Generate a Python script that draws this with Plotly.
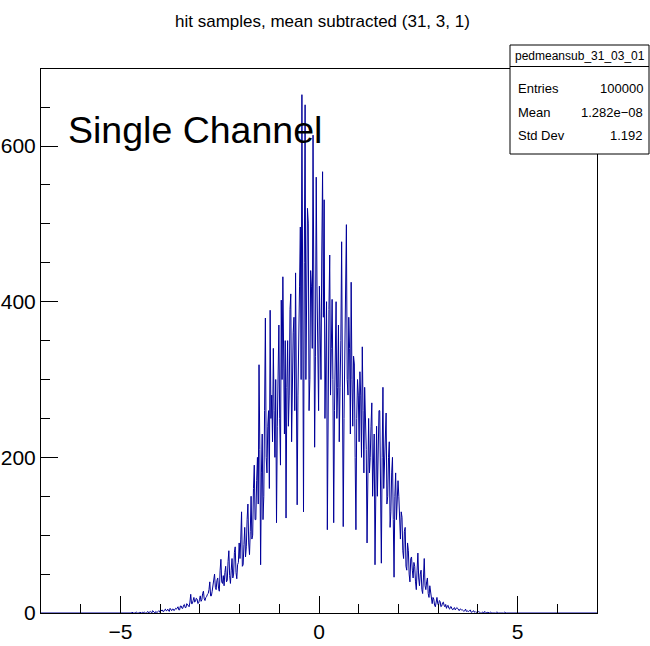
import plotly.graph_objects as go

# ---- data ----
BIN_LO = -4.8
BIN_W = 0.02
counts = [
    # -4.8 .. -4.4
    0, 0, 0, 0, 1, 0, 0, 0, 0, 1, 1, 0, 0, 0, 1, 0, 0, 1, 0, 1,
    # -4.4 .. -4.0
    1, 0, 0, 1, 2, 0, 1, 2, 1, 0, 3, 1, 1, 0, 2, 1, 1, 2, 3, 1,
    # -4.0 .. -3.6
    2, 3, 4, 2, 2, 4, 5, 3, 3, 5, 4, 2, 6, 4, 3, 5, 5, 3, 4, 6,
    # -3.6 .. -3.2
    5, 7, 8, 4, 4, 9, 9, 6, 6, 10, 11, 7, 7, 12, 10, 8, 8, 14, 24, 12,
    # -3.2 .. -2.8
    12, 16, 20, 14, 15, 19, 18, 12, 13, 17, 22, 15, 17, 25, 28, 18, 16, 20, 21, 24,
    # -2.8 .. -2.4
    25, 30, 40, 22, 22, 28, 35, 45, 50, 33, 30, 42, 45, 32, 28, 55, 69, 40, 38, 48,
    # -2.4 .. -2.0
    35, 52, 60, 40, 42, 66, 80, 48, 38, 55, 70, 45, 50, 78, 85, 52, 44, 62, 65, 90,
    # -2.0 .. -1.6
    70, 95, 130, 60, 62, 88, 110, 72, 85, 120, 140, 90, 75, 105, 150, 95, 100, 160, 190, 120,
    # -1.6 .. -1.2
    120, 170, 200, 140, 319, 210, 62, 180, 230, 120, 150, 260, 379, 200, 180, 240, 260, 160, 389, 250,
    # -1.2 .. -0.8
    280, 220, 340, 260, 200, 300, 116, 240, 310, 370, 250, 190, 402, 300, 432, 270, 230, 350, 122, 290,
    # -0.8 .. -0.4
    350, 240, 280, 390, 410, 220, 300, 360, 380, 260, 437, 320, 139, 280, 330, 420, 496, 300, 666, 380,
    # -0.4 .. 0.0
    130, 450, 653, 300, 380, 520, 501, 260, 300, 440, 420, 340, 614, 400, 213, 330, 560, 420, 350, 260,
    # 0.0 .. 0.4
    420, 310, 300, 460, 567, 380, 531, 250, 330, 400, 107, 300, 390, 460, 280, 340, 403, 300, 116, 260,
    # 0.4 .. 0.8
    330, 400, 250, 290, 370, 220, 290, 350, 477, 300, 111, 250, 360, 420, 499, 300, 280, 380, 340, 230,
    # 0.8 .. 1.2
    425, 300, 240, 330, 320, 200, 107, 250, 300, 280, 220, 310, 280, 200, 342, 260, 180, 290, 260, 210,
    # 1.2 .. 1.6
    90, 200, 250, 180, 200, 240, 270, 150, 180, 230, 62, 190, 240, 150, 210, 260, 260, 180, 64, 200,
    # 1.6 .. 2.0
    290, 160, 190, 230, 257, 140, 150, 200, 220, 110, 130, 180, 200, 120, 46, 150, 180, 120, 140, 170,
    # 2.0 .. 2.4
    150, 100, 95, 130, 123, 80, 70, 105, 110, 60, 55, 90, 80, 50, 40, 70, 72, 55, 45, 65,
    # 2.4 .. 2.8
    60, 40, 30, 55, 77, 45, 35, 50, 55, 30, 25, 45, 70, 35, 30, 40, 45, 25, 20, 35,
    # 2.8 .. 3.2
    25, 15, 12, 20, 18, 10, 8, 14, 20, 12, 10, 16, 15, 8, 9, 13, 14, 10, 8, 11,
    # 3.2 .. 3.6
    6, 9, 10, 6, 5, 8, 8, 5, 4, 6, 7, 4, 5, 7, 6, 3, 3, 5, 5, 4,
    # 3.6 .. 4.0
    4, 3, 2, 3, 5, 2, 3, 2, 2, 3, 4, 1, 1, 2, 3, 1, 2, 1, 1, 2,
    # 4.0 .. 4.4
    2, 1, 1, 0, 0, 1, 1, 0, 2, 1, 0, 0, 1, 0, 0, 1, 1, 0, 0, 0,
    # 4.4 .. 4.8
    0, 0, 0, 1, 1, 0, 0, 0, 0, 0, 0, 0, 0, 1, 0, 0, 0, 0, 0, 0,
]
X_RANGE = [-7, 7]
Y_RANGE = [0, 699]
title_text = "hit samples, mean subtracted (31, 3, 1)"
stats_name = "pedmeansub_31_03_01"
stats_labels = ["Entries", "Mean", "Std Dev"]
stats_values = ["100000", "1.282e\u221208", "1.192"]
label_text = "Single Channel"

# ---- outline through bin centres (bins are sub-pixel wide in the original) ----
centers = [BIN_LO + (i + 0.5) * BIN_W for i in range(len(counts))]
xs = [X_RANGE[0], BIN_LO] + centers + [BIN_LO + len(counts) * BIN_W, X_RANGE[1]]
ys = [0, 0] + counts + [0, 0]

FONT = "Liberation Sans, Arial, Helvetica, sans-serif"

fig = go.Figure()
fig.add_trace(go.Scatter(
    x=xs, y=ys, mode="lines", line=dict(color="#000099", width=1),
    hoverinfo="skip", showlegend=False,
))

W, H = 650, 646
L, R, T, B = 41, 53, 69, 33
pw, ph = W - L - R, H - T - B


def px(xp):
    return (xp - L) / pw


def py(yp):
    return (H - B - yp) / ph


axis_common = dict(
    showgrid=False, zeroline=False, showline=True, linecolor="black", linewidth=1,
    mirror=True, ticks="inside", ticklen=17, tickwidth=1, tickcolor="black",
    tickfont=dict(family=FONT, size=21, color="black"), automargin=False,
)

fig.update_layout(
    width=W, height=H,
    margin=dict(l=L, r=R, t=T, b=B, autoexpand=False),
    paper_bgcolor="white", plot_bgcolor="white",
    xaxis=dict(range=X_RANGE, dtick=5, tick0=0,
               minor=dict(dtick=1, ticklen=9, ticks="inside", tickcolor="black", showgrid=False),
               **axis_common),
    yaxis=dict(range=Y_RANGE, dtick=200, tick0=0,
               minor=dict(dtick=50, ticklen=9, ticks="inside", tickcolor="black", showgrid=False),
               **axis_common),
)

# title
fig.add_annotation(text=title_text, xref="paper", yref="paper", x=px(322), y=py(21),
                   xanchor="center", yanchor="middle", showarrow=False,
                   font=dict(family=FONT, size=17, color="black"))

# label
fig.add_annotation(text=label_text, xref="paper", yref="paper", x=px(66), y=py(130),
                   xanchor="left", yanchor="middle", showarrow=False,
                   font=dict(family=FONT, size=37.5, color="black"))

# stats box
fig.add_shape(type="rect", xref="paper", yref="paper", x0=px(510), x1=px(649), y0=py(154), y1=py(45),
              line=dict(color="black", width=1), fillcolor="white", layer="above")
fig.add_shape(type="line", xref="paper", yref="paper", x0=px(510), x1=px(649), y0=py(66.5), y1=py(66.5),
              line=dict(color="black", width=1), layer="above")
fig.add_annotation(text=stats_name, xref="paper", yref="paper", x=px(579.5), y=py(56),
                   xanchor="center", yanchor="middle", showarrow=False,
                   font=dict(family=FONT, size=12, color="black"))
row_y = [89, 112, 135]
for lab, val, yy in zip(stats_labels, stats_values, row_y):
    fig.add_annotation(text=lab, xref="paper", yref="paper", x=px(516), y=py(yy),
                       xanchor="left", yanchor="middle", showarrow=False,
                       font=dict(family=FONT, size=13, color="black"))
    fig.add_annotation(text=val, xref="paper", yref="paper", x=px(645), y=py(yy),
                       xanchor="right", yanchor="middle", showarrow=False,
                       font=dict(family=FONT, size=13, color="black"))

fig.write_html("out.html")
